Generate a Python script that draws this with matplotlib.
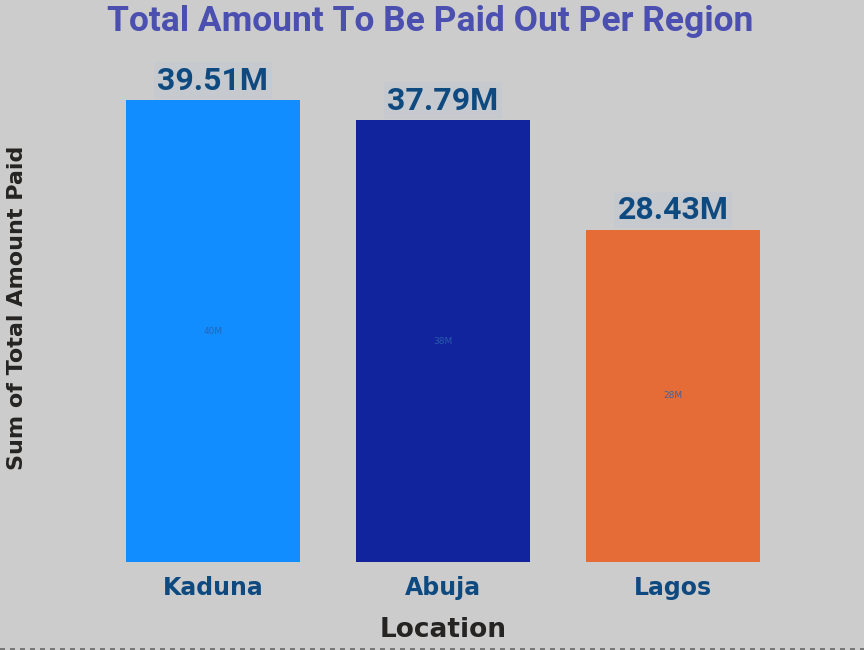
import matplotlib
matplotlib.use("Agg")
import matplotlib.pyplot as plt
from matplotlib.font_manager import fontManager

names = {f.name for f in fontManager.ttflist}
narrow = "Liberation Sans Narrow" if "Liberation Sans Narrow" in names else "Roboto"

locations = ["Kaduna", "Abuja", "Lagos"]
amounts = [39.51, 37.79, 28.43]  # millions
top_labels = ["39.51M", "37.79M", "28.43M"]
inner_labels = ["40M", "38M", "28M"]
colors = ["#118DFF", "#12239E", "#E66C37"]

bg = "#CCCCCC"
fig = plt.figure(figsize=(8.64, 6.5), dpi=100, facecolor=bg)
ax = fig.add_axes([98/864, (650-562)/650, 690/864, 522/650])
ax.set_facecolor(bg)

x = list(range(len(locations)))
bars = ax.bar(x, amounts, width=174/230, color=colors)
ax.set_xlim(-0.5, 2.5)
ax.set_ylim(0, 44.66)

for xi, v, lab, il in zip(x, amounts, top_labels, inner_labels):
    ax.text(xi, v + 0.4, lab, ha="center", va="bottom", fontsize=23, fontweight="bold",
            color="#0E4A80", family=narrow,
            bbox=dict(boxstyle="square,pad=0.1", fc="#C6CACF", ec="none"))
    ax.text(xi, v / 2, il, ha="center", va="center", fontsize=6.5, color="#2A62AA", alpha=0.9)

ax.set_xticks(x)
ax.set_xticklabels(locations, fontsize=17, fontweight="bold", color="#0E4A80")
ax.tick_params(axis="x", length=0, pad=10)
ax.set_yticks([])
for s in ax.spines.values():
    s.set_visible(False)

ax.set_xlabel("Location", fontsize=19, fontweight="bold", color="#252423", labelpad=12)
fig.text(17/864, (650-308)/650, "Sum of Total Amount Paid", rotation=90, ha="center", va="center",
         fontsize=16, fontweight="bold", color="#252423")
fig.text(430/864, (650-22)/650, "Total Amount To Be Paid Out Per Region", ha="center", va="center",
         fontsize=25.5, fontweight="bold", color="#4A4FB0", family=narrow)

fig.add_artist(plt.Line2D([0, 1], [1/650, 1/650], color="#666666", lw=1.2, ls=(0, (3, 3)),
                          transform=fig.transFigure))

fig.savefig("out.png", dpi=100, facecolor=bg)
